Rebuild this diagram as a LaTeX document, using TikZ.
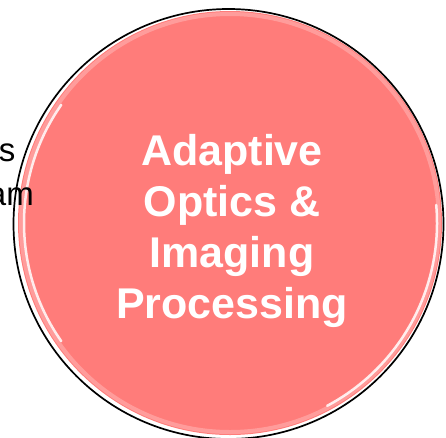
\documentclass[tikz,border=0pt]{standalone}
\usepackage{fontspec}
\setmainfont{Liberation Sans}
\definecolor{salmao}{RGB}{255,124,122}
\tikzset{%
    bolha/.style    = {circle, fill=salmao, minimum size=424pt, inner sep=0pt},
    contorno/.style = {draw=black, line width=1.7pt},
    halo/.style     = {draw=white, line width=4pt, opacity=0.25},
    brilho/.style   = {draw=white, line width=2.5pt, opacity=0.85, line cap=round},
    rotulo/.style   = {text=white, align=center,
                       font=\fontsize{43}{51}\selectfont\bfseries},
    resto/.style    = {text=black, inner sep=0pt, anchor=base east,
                       font=\fontsize{33}{40}\selectfont},
}

\begin{document}
\begin{tikzpicture}[x=1pt, y=-1pt]
    \useasboundingbox (0,0) rectangle (446,437);

    % circulo principal
    \node (aoip) [bolha] at (230,223) {};
    \draw[halo] (aoip.center) circle [radius=209];
    \draw[brilho] (aoip.center) ++(145:206) arc [start angle=145, end angle=215, radius=206];
    \draw[brilho] (aoip.center) ++(-5:207) arc [start angle=-5, end angle=62, radius=207];
    \draw[contorno] ([xshift=-1.5pt, yshift=-1pt]aoip.center) circle [radius=215];
    \node (aoiptxt) [rotulo] at (232,231) {Adaptive\\Optics \&\\Imaging\\Processing};

    % texto do circulo vizinho
    \node (viz1) [resto] at (15.5,161) {s};
    \node (viz2) [resto] at (34,205) {am};
\end{tikzpicture}
\end{document}
